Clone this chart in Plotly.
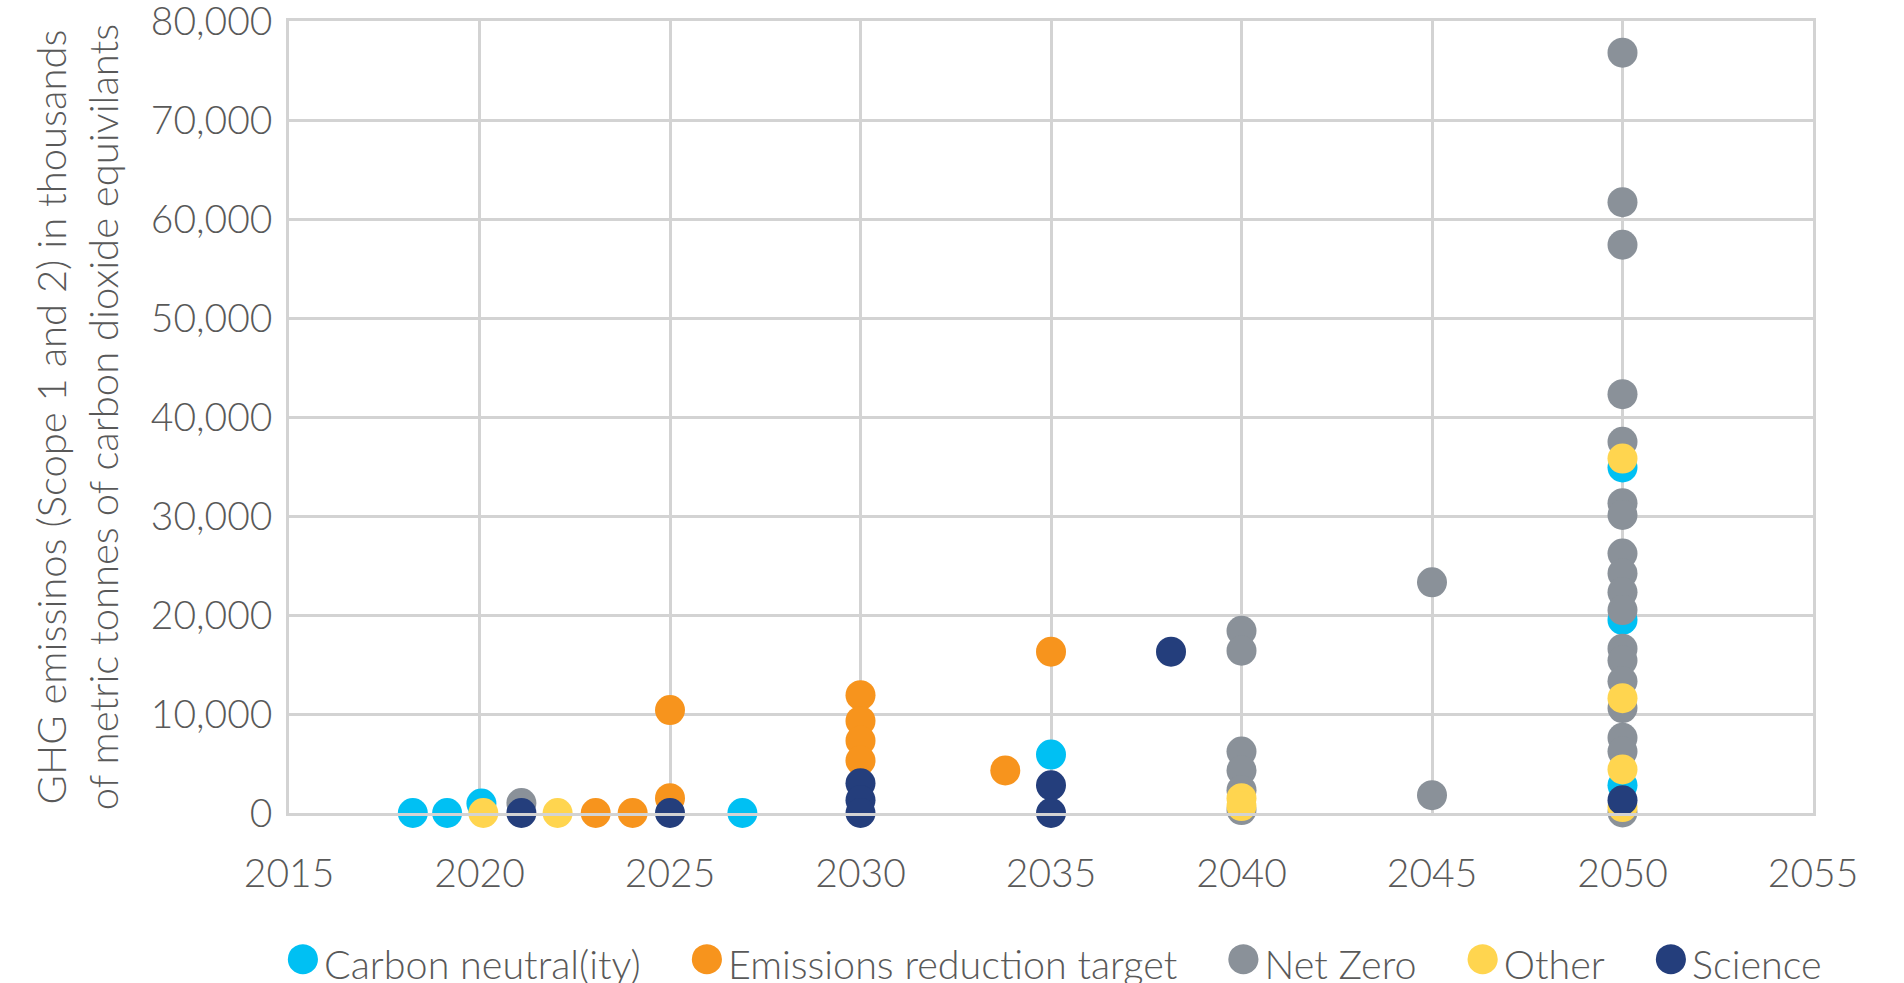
import plotly.graph_objects as go

series_names = ["Carbon neutral(ity)", "Emissions reduction target", "Net Zero", "Other", "Science"]
series_colors = ["#00C0F3", "#F7941D", "#8A9199", "#FFD54F", "#243E7C"]

carbon_x = [2018.25, 2019.15, 2020.05, 2026.9, 2035, 2050, 2050, 2050]
carbon_y = [0, 0, 950, 0, 5900, 34900, 19500, 2800]

emis_x = [2023.05, 2024.02, 2025, 2025, 2030, 2030, 2030, 2030, 2033.8, 2035, 2043.9]
emis_y = [0, 0, 1500, 10400, 11900, 9300, 7300, 5300, 4300, 16300, -150]

net_x = [2021.1, 2040, 2040, 2040, 2040, 2040, 2040, 2045, 2045,
         2050, 2050, 2050, 2050, 2050, 2050, 2050, 2050, 2050, 2050,
         2050, 2050, 2050, 2050, 2050, 2050, 2050, 2050]
net_y = [1000, 18400, 16400, 6200, 4300, 2300, 300, 23300, 1800,
         76800, 61700, 57400, 42300, 37500, 31300, 30100, 26200, 24200, 22300,
         20500, 16600, 15400, 13300, 10600, 7600, 6200, 50]

other_x = [2020.1, 2022.05, 2040, 2040, 2050, 2050, 2050, 2050]
other_y = [0, 0, 1500, 700, 35800, 11600, 4400, 600]

sci_x = [2021.1, 2025, 2030, 2030, 2030, 2035, 2035, 2038.15, 2050]
sci_y = [0, 0, 3000, 1300, 0, 2800, 0, 16300, 1300]

x_ticks = [2015, 2020, 2025, 2030, 2035, 2040, 2045, 2050, 2055]
y_ticks = [0, 10000, 20000, 30000, 40000, 50000, 60000, 70000, 80000]

all_x = [carbon_x, emis_x, net_x, other_x, sci_x]
all_y = [carbon_y, emis_y, net_y, other_y, sci_y]

FONT = "Lato"
TXT = "#595959"
GRID = "#D3D3D3"
FS = 39

fig = go.Figure()
for name, color, xs, ys in zip(series_names, series_colors, all_x, all_y):
    fig.add_trace(go.Scatter(
        x=xs, y=ys, mode="markers", name=name, showlegend=False,
        marker=dict(size=30, color=color, line=dict(width=0)),
        cliponaxis=False,
    ))

# legend entries with large round markers (plotly caps legend symbol size)
for name, color in zip(series_names, series_colors):
    fig.add_trace(go.Scatter(
        x=[None], y=[None], mode="markers", showlegend=True,
        name=f"<span style='color:{color};font-family:DejaVu Sans;font-size:70px'>●</span>{name}",
        marker=dict(size=1, color="rgba(0,0,0,0)"),
        hoverinfo="skip",
    ))

fig.update_layout(
    width=1904, height=983,
    margin=dict(l=289, r=91, t=21, b=170, autoexpand=False),
    paper_bgcolor="white", plot_bgcolor="white",
    font=dict(family=FONT, size=FS, color=TXT, weight=300),
    showlegend=True,
    legend=dict(orientation="h", xref="paper", yref="paper",
                x=-0.031, xanchor="left", y=-0.190, yanchor="middle",
                font=dict(family=FONT, size=39.5, color=TXT, weight=300),
                itemwidth=30, traceorder="normal", tracegroupgap=0),
)
fig.update_xaxes(
    range=[2015, 2055], tickvals=x_ticks, ticktext=[str(v) for v in x_ticks],
    showgrid=True, gridcolor=GRID, gridwidth=2.5,
    showline=True, linecolor=GRID, linewidth=2.5, mirror=True,
    zeroline=False, ticks="", ticklabelstandoff=24, ticklabeloverflow="allow",
    tickfont=dict(family=FONT, size=FS, color=TXT, weight=300),
)
fig.update_yaxes(
    range=[0, 80000], tickvals=y_ticks, ticktext=[f"{v:,}" for v in y_ticks],
    showgrid=True, gridcolor=GRID, gridwidth=2.5,
    showline=True, linecolor=GRID, linewidth=2.5, mirror=True,
    zeroline=False, ticks="", ticklabelstandoff=6, ticklabeloverflow="allow",
    tickfont=dict(family=FONT, size=FS, color=TXT, weight=300),
    title=dict(text="GHG emissinos (Scope 1 and 2) in thousands<br>of metric tonnes of carbon dioxide equivilants",
               font=dict(family=FONT, size=40, color=TXT, weight=300), standoff=20),
)

fig.write_html("out.html", config={"displayModeBar": False},
               post_script="document.body.style.margin='0';")
